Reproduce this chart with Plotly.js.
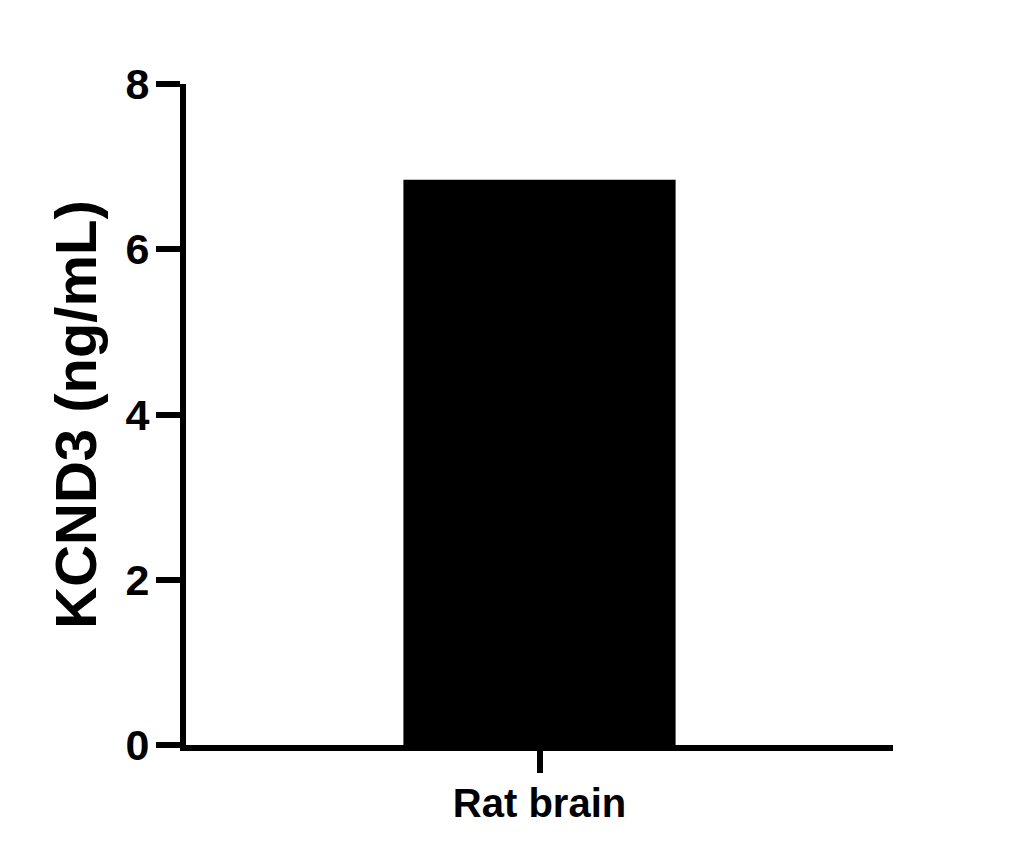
<!DOCTYPE html>
<html>
<head>
<meta charset="utf-8">
<script src="https://cdn.plot.ly/plotly-3.0.1.min.js"></script>
<style>
  html, body { margin: 0; padding: 0; background: #fff; }
  #chart { width: 1025px; height: 865px; }
</style>
</head>
<body>
<div id="chart"></div>
<script>
// sample and measured level
var samples = ['Rat brain'];
var kcnd3 = [6.84];
var yTicks = [0, 2, 4, 6, 8];

var fontFam = 'Liberation Sans, Arial, Helvetica, sans-serif';

var data = [{
  type: 'bar',
  x: samples,
  y: kcnd3,
  width: 0.385,
  marker: { color: '#000000', line: { width: 0 } },
  hoverinfo: 'x+y'
}];

var layout = {
  width: 1025,
  height: 865,
  margin: { l: 186, r: 132, t: 84, b: 120 },
  paper_bgcolor: '#ffffff',
  plot_bgcolor: '#ffffff',
  showlegend: false,
  font: { family: fontFam, color: '#000000' },
  xaxis: {
    type: 'category',
    range: [-0.5, 0.5],
    showline: true,
    linecolor: '#000000',
    linewidth: 6,
    ticks: 'outside',
    ticklen: 22,
    tickwidth: 6,
    tickcolor: '#000000',
    ticklabelstandoff: -4,
    tickfont: { family: fontFam, size: 40, weight: 'bold', color: '#000000' },
    showgrid: false,
    zeroline: false,
    fixedrange: true
  },
  yaxis: {
    range: [0, 8],
    tickvals: yTicks,
    ticktext: yTicks.map(String),
    showline: true,
    linecolor: '#000000',
    linewidth: 6,
    ticks: 'outside',
    ticklen: 24,
    tickwidth: 6,
    tickcolor: '#000000',
    ticklabelstandoff: -2,
    tickfont: { family: fontFam, size: 43, weight: 'bold', color: '#000000' },
    showgrid: false,
    zeroline: false,
    fixedrange: true,
    title: {
      text: 'KCND3 (ng/mL)',
      font: { family: fontFam, size: 58, weight: 'bold', color: '#000000' },
      standoff: 12
    }
  }
};

Plotly.newPlot('chart', data, layout, { displayModeBar: false, staticPlot: true });
</script>
</body>
</html>
